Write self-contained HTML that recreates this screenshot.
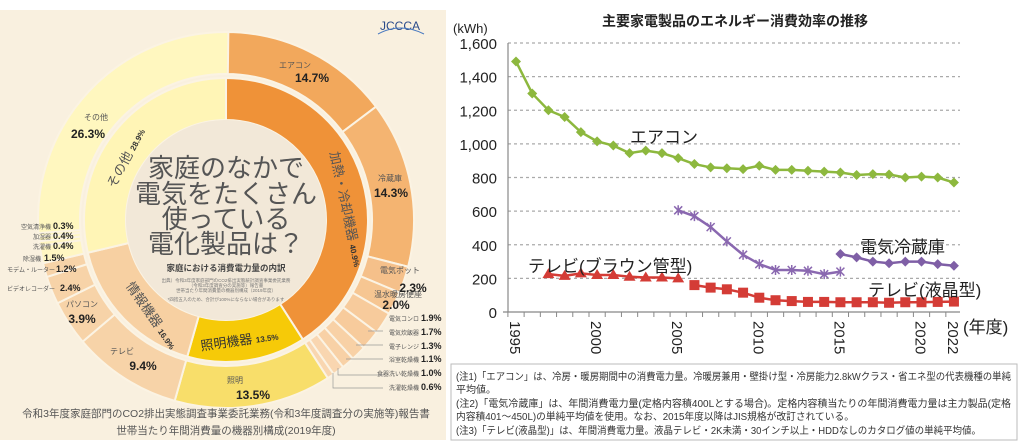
<!DOCTYPE html>
<html><head><meta charset="utf-8">
<style>
html,body{margin:0;padding:0;background:#fff;width:1024px;height:444px;overflow:hidden;font-family:"Liberation Sans","Noto Sans CJK JP",sans-serif;}
svg text{font-family:"Liberation Sans","Noto Sans CJK JP",sans-serif;}
</style></head>
<body>
<svg id="s" width="1024" height="444" viewBox="0 0 1024 444" xmlns="http://www.w3.org/2000/svg">
<rect x="0" y="10" width="446" height="430" fill="#F9F0DF"/>
<g id="donut"></g>
<circle cx="226" cy="220" r="100" fill="#F2E8D8"/>
<g fill="#555" font-size="26" text-anchor="middle">
<text x="226" y="177">家庭のなかで</text>
<text x="226" y="203">電気をたくさん</text>
<text x="226" y="228">使っている</text>
<text x="226" y="253">電化製品は？</text>
</g>
<text x="226" y="271" font-size="8.5" font-weight="bold" fill="#444" text-anchor="middle">家庭における消費電力量の内訳</text>
<g font-size="4.5" fill="#777" text-anchor="middle">
<text x="226" y="282">出典）令和3年度家庭部門のCO2排出実態統計調査事業委託業務</text>
<text x="226" y="287">（令和3年度調査分の実施等）報告書</text>
<text x="226" y="292">世帯当たり年間消費量の機器別構成（2019年度）</text>
<text x="226" y="301">*四捨五入のため、合計が100%にならない場合があります</text>
</g>
<g fill="#555" font-size="8">
<text x="295" y="68" text-anchor="middle">エアコン</text>
<text x="390" y="181" text-anchor="middle">冷蔵庫</text>
<text x="400" y="273" text-anchor="middle">電気ポット</text>
<text x="398" y="297" text-anchor="middle">温水暖房便座</text>
<text x="96" y="120" text-anchor="middle">その他</text>
<text x="82" y="307" text-anchor="middle">パソコン</text>
<text x="122" y="354" text-anchor="middle">テレビ</text>
<text x="235" y="383" text-anchor="middle">照明</text>
</g>
<g fill="#222" font-size="12" font-weight="bold" text-anchor="middle">
<text x="312" y="82">14.7%</text>
<text x="391" y="197">14.3%</text>
<text x="413" y="292">2.3%</text>
<text x="396" y="309">2.0%</text>
<text x="88" y="138">26.3%</text>
<text x="82" y="323">3.9%</text>
<text x="143" y="370">9.4%</text>
<text x="253" y="399">13.5%</text>
</g>
<g font-size="6" fill="#555" text-anchor="end">
<text x="419" y="321">電気コンロ</text><text x="419" y="335">電気炊飯器</text><text x="419" y="349">電子レンジ</text><text x="419" y="362">浴室乾燥機</text><text x="419" y="376">食器洗い乾燥機</text><text x="419" y="390">洗濯乾燥機</text>
<text x="51" y="229">空気清浄機</text><text x="51" y="239">加湿器</text><text x="51" y="249">洗濯機</text><text x="41" y="261">除湿機</text><text x="55" y="272">モデム・ルーター</text><text x="55" y="291">ビデオレコーダー</text>
</g>
<g font-size="9" font-weight="bold" fill="#222">
<text x="421" y="321">1.9%</text><text x="421" y="335">1.7%</text><text x="421" y="349">1.3%</text><text x="421" y="362">1.1%</text><text x="421" y="376">1.0%</text><text x="421" y="390">0.6%</text>
<text x="53" y="229">0.3%</text><text x="53" y="239">0.4%</text><text x="53" y="249">0.4%</text><text x="44" y="261">1.5%</text><text x="56" y="272">1.2%</text><text x="60" y="291">2.4%</text>
</g>
<g stroke="#999" stroke-width="0.7" fill="none">
<path d="M368 331H383M356 345H383M346 359H383M338 368V375H383M333 373V388H383"/>
</g>
<g fill="#555">
<text transform="translate(130,160) rotate(-62)" font-size="13" text-anchor="middle">その他 <tspan font-size="8" font-weight="bold" fill="#333">28.9%</tspan></text>
<text transform="translate(342,210) rotate(78)" font-size="13" text-anchor="middle">加熱・冷却機器 <tspan font-size="8" font-weight="bold" fill="#333">40.9%</tspan></text>
<text transform="translate(148,318) rotate(55)" font-size="13" text-anchor="middle">情報機器 <tspan font-size="8" font-weight="bold" fill="#333">16.9%</tspan></text>
<text transform="translate(240,345) rotate(-8)" font-size="13" text-anchor="middle" fill="#333">照明機器 <tspan font-size="8" font-weight="bold">13.5%</tspan></text>
</g>
<text x="400" y="30" font-size="12" fill="#2a4a8a" text-anchor="middle" font-family="Liberation Serif, serif">JCCCA</text>
<path d="M378 34 Q400 22 424 34" stroke="#4a7ac0" fill="none" stroke-width="1"/>
<g fill="#555" font-size="10.5" text-anchor="middle">
<text x="226" y="417">令和3年度家庭部門のCO2排出実態調査事業委託業務(令和3年度調査分の実施等)報告書</text>
<text x="226" y="434">世帯当たり年間消費量の機器別構成(2019年度)</text>
</g>

<text x="735" y="26" font-size="14" font-weight="bold" fill="#222" text-anchor="middle">主要家電製品のエネルギー消費効率の推移</text>
<text x="453" y="33" font-size="13" fill="#222">(kWh)</text>
<g id="chart"></g>
<g font-size="17" fill="#222">
<text x="630" y="143">エアコン</text>
<text x="860" y="253">電気冷蔵庫</text>
<text x="528" y="272">テレビ(ブラウン管型)</text>
<text x="868" y="296">テレビ(液晶型)</text>
<text x="963" y="333">(年度)</text>
</g>
<rect x="451" y="364" width="566" height="76" fill="none" stroke="#bbb" stroke-width="1"/>
<g font-size="10" fill="#333">
<text x="456" y="380" textLength="555" lengthAdjust="spacingAndGlyphs">(注1)「エアコン」は、冷房・暖房期間中の消費電力量。冷暖房兼用・壁掛け型・冷房能力2.8kWクラス・省エネ型の代表機種の単純</text>
<text x="456" y="393">平均値。</text>
<text x="456" y="407" textLength="555" lengthAdjust="spacingAndGlyphs">(注2)「電気冷蔵庫」は、年間消費電力量(定格内容積400Lとする場合)。定格内容積当たりの年間消費電力量は主力製品(定格</text>
<text x="456" y="420" textLength="398" lengthAdjust="spacingAndGlyphs">内容積401～450L)の単純平均値を使用。なお、2015年度以降はJIS規格が改訂されている。</text>
<text x="456" y="434" textLength="525" lengthAdjust="spacingAndGlyphs">(注3)「テレビ(液晶型)」は、年間消費電力量。液晶テレビ・2K未満・30インチ以上・HDDなしのカタログ値の単純平均値。</text>
</g>
</svg>
<script>
var NS="http://www.w3.org/2000/svg";
function el(p,t,a){var e=document.createElementNS(NS,t);for(var k in a)e.setAttribute(k,a[k]);p.appendChild(e);return e;}
var cx=226,cy=220;
function pt(r,p){var a=p/100*2*Math.PI;return [cx+r*Math.sin(a),cy-r*Math.cos(a)];}
function wedge(g,r0,r1,p0,p1,c){var a=pt(r1,p0),b=pt(r1,p1),d=pt(r0,p1),e=pt(r0,p0),l=(p1-p0)>50?1:0;
el(g,"path",{d:"M"+a+"A"+r1+","+r1+" 0 "+l+" 1 "+b+"L"+d+"A"+r0+","+r0+" 0 "+l+" 0 "+e+"Z",fill:c,stroke:"#FBF3E3","stroke-width":2});}
var g=document.getElementById("donut");
var outer=[[14.7,"#F2A85C"],[14.3,"#F4B471"],[2.3,"#F5C08A"],[2.0,"#F6C692"],[1.9,"#F7CB9C"],[1.7,"#F7CB9C"],[1.3,"#F8D1A6"],[1.1,"#F8D1A6"],[1.0,"#F9D6B0"],[0.6,"#F9D6B0"],
[13.5,"#F8DE6A"],[9.4,"#F7D3A8"],[3.9,"#F7D3A8"],[2.4,"#F7D3A8"],[1.2,"#F7D3A8"],[1.5,"#FFF6C2"],[0.4,"#FFF6C2"],[0.4,"#FFF6C2"],[0.3,"#FFF6C2"],[26.3,"#FFF7BF"]];
var p=0;outer.forEach(function(o){wedge(g,146,188,p,p+o[0],o[1]);p+=o[0];});
var inner=[[40.9,"#EF9238"],[13.5,"#F6CA08"],[16.9,"#F7D0A2"],[28.7,"#FFF5B6"]];
p=0;inner.forEach(function(o){wedge(g,100,142,p,p+o[0],o[1]);p+=o[0];});
var c=document.getElementById("chart");
function X(y){return 516+(y-1995)*16.22;}function Y(v){return 312-v*269/1600;}
for(var v=0;v<=1600;v+=200){
 if(v>0)el(c,"line",{x1:508,x2:960,y1:Y(v),y2:Y(v),stroke:"#aaa","stroke-width":1.2,"stroke-dasharray":"3,3"});
 var t=el(c,"text",{x:497,y:Y(v)+6,"font-size":15,"text-anchor":"end",fill:"#222"});t.textContent=v.toLocaleString("en-US");}
el(c,"line",{x1:508,x2:508,y1:43,y2:312,stroke:"#888","stroke-width":1.2});
el(c,"line",{x1:503,x2:960,y1:312,y2:312,stroke:"#888","stroke-width":1.2});
for(var y=1995;y<=2022;y++)el(c,"line",{x1:X(y)-8.1,x2:X(y)-8.1,y1:312,y2:317,stroke:"#888"});
[1995,2000,2005,2010,2015,2020,2022].forEach(function(y){var t=el(c,"text",{transform:"translate("+(X(y)-6)+",321) rotate(90)","font-size":15,fill:"#222"});t.textContent=y;});
function series(y0,vals,col,mk){var pts=vals.map(function(v,i){return [X(y0+i),Y(v)];});
 el(c,"polyline",{points:pts.join(" "),fill:"none",stroke:col,"stroke-width":2.5,"stroke-linejoin":"round"});
 pts.forEach(function(q){var x=q[0],y=q[1];
  if(mk=="d"||mk=="f")el(c,"path",{d:"M"+x+","+(y-5)+"L"+(x+5)+","+y+"L"+x+","+(y+5)+"L"+(x-5)+","+y+"Z",fill:col});
  if(mk=="t")el(c,"path",{d:"M"+x+","+(y-6)+"L"+(x+6)+","+(y+4)+"L"+(x-6)+","+(y+4)+"Z",fill:col});
  if(mk=="s")el(c,"rect",{x:x-5,y:y-5,width:10,height:10,fill:col});
  if(mk=="x")el(c,"path",{d:"M"+(x-4)+","+(y-4)+"L"+(x+4)+","+(y+4)+"M"+(x+4)+","+(y-4)+"L"+(x-4)+","+(y+4)+"M"+x+","+(y-5)+"V"+(y+5),stroke:col,"stroke-width":1.5});
 });}
series(1995,[1490,1300,1200,1160,1070,1015,990,945,960,945,915,880,860,855,850,870,845,845,840,835,830,815,820,818,800,805,800,770],"#8DB83E","d");
series(1997,[225,215,230,220,220,210,205,205,200],"#D43C36","t");
series(2006,[160,145,135,115,85,70,65,60,60,58,58,58,55,58,58,60,62],"#D43C36","s");
series(2005,[605,570,505,420,340,285,250,250,245,225,240],"#8A68B0","x");
series(2015,[345,325,300,290,300,300,285,275],"#7F5FA6","f");
</script>
</body></html>
